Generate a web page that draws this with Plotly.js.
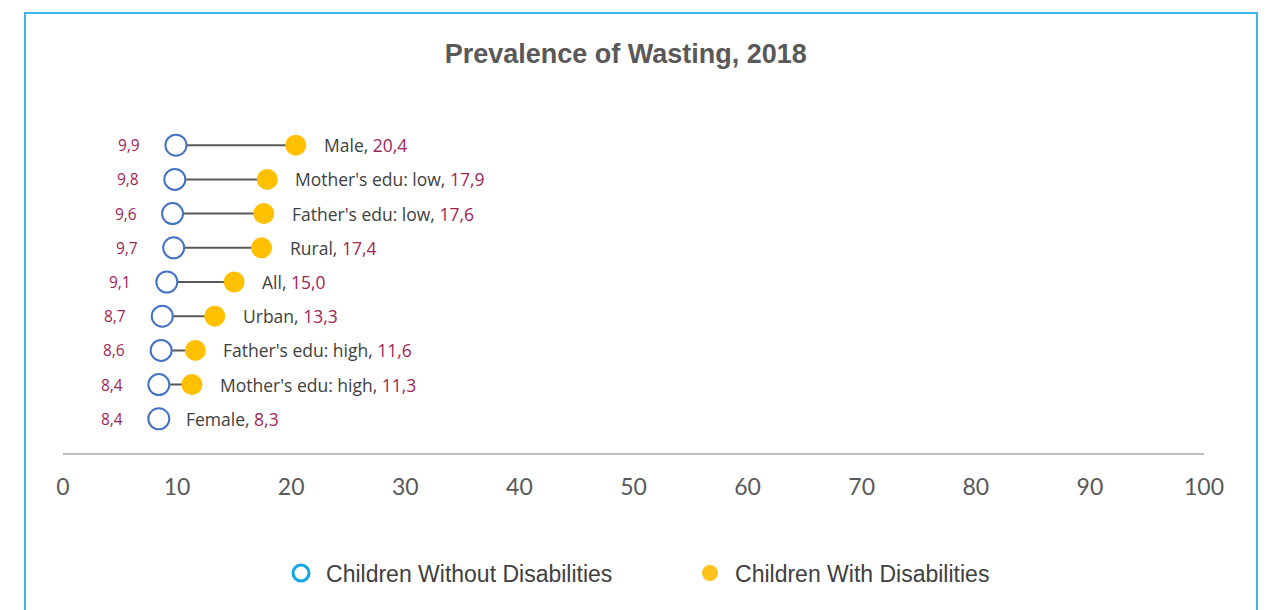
<!DOCTYPE html>
<html>
<head>
<meta charset="utf-8">
<script src="https://cdn.plot.ly/plotly-3.0.1.min.js"></script>
<style>
  html, body { margin:0; padding:0; background:#fff; }
  #wrap { position:relative; width:1272px; height:610px; overflow:hidden; }
  #chart { position:absolute; left:0; top:0; width:1272px; height:610px; }
  #frame { position:absolute; left:24px; top:12px; width:1230px; height:640px; border:2px solid #3cb6e6; pointer-events:none; }
</style>
</head>
<body>
<div id="wrap"><div id="chart"></div><div id="frame"></div></div>
<script>
const categories = ["Male", "Mother's edu: low", "Father's edu: low", "Rural", "All", "Urban", "Father's edu: high", "Mother's edu: high", "Female"];
const withoutDisab = [9.9, 9.8, 9.6, 9.7, 9.1, 8.7, 8.6, 8.4, 8.4];
const withDisab = [20.4, 17.9, 17.6, 17.4, 15.0, 13.3, 11.6, 11.3, 8.3];
const seriesNames = ["Children Without Disabilities", "Children With Disabilities"];
const xTicks = [0, 10, 20, 30, 40, 50, 60, 70, 80, 90, 100];

const fmt = v => v.toFixed(1).replace('.', ',');
const labelFont = "'Open Sans', Lato, sans-serif";
const valueColor = "#9e2656";

// connecting lines
const lx = [], ly = [];
categories.forEach((c, i) => { lx.push(withoutDisab[i], withDisab[i], null); ly.push(c, c, null); });

const traces = [
  { x: lx, y: ly, mode: 'lines', line: { color: '#595959', width: 2 }, showlegend: false, hoverinfo: 'skip' },
  { x: withDisab, y: categories, mode: 'markers', name: seriesNames[1], showlegend: false,
    marker: { color: '#ffc000', size: 21, line: { width: 0 } } },
  { x: withoutDisab, y: categories, mode: 'markers', name: seriesNames[0], showlegend: false,
    marker: { color: '#ffffff', size: 21, line: { color: '#4472c4', width: 2 } } },
  // legend entries
  { x: [null], y: [null], mode: 'markers', name: seriesNames[0],
    marker: { color: '#ffffff', size: 16, line: { color: '#14a6e4', width: 3 } } },
  { x: [null], y: [null], mode: 'markers', name: seriesNames[1],
    marker: { color: '#fdc21c', size: 18, line: { width: 0 } } }
];

const annotations = [];
categories.forEach((c, i) => {
  annotations.push({ x: withoutDisab[i], y: c, xref: 'x', yref: 'y', text: fmt(withoutDisab[i]),
    showarrow: false, xanchor: 'right', xshift: -34, yshift: 0,
    font: { family: labelFont, size: 15.5, color: valueColor } });
  annotations.push({ x: withDisab[i], y: c, xref: 'x', yref: 'y',
    text: c + ', <span style="color:' + valueColor + '">' + fmt(withDisab[i]) + '</span>',
    showarrow: false, xanchor: 'left', xshift: 26,
    font: { family: labelFont, size: 17.5, color: '#404040' } });
});

const layout = {
  width: 1272, height: 610,
  margin: { l: 63, r: 68, t: 111, b: 157 },
  paper_bgcolor: '#ffffff', plot_bgcolor: '#ffffff',
  title: { text: '<b>Prevalence of Wasting, 2018</b>', x: 0.492, xanchor: 'center', y: 0.912, yanchor: 'middle',
    font: { family: "'Liberation Sans Narrow', 'Liberation Sans', Arial, sans-serif", size: 27, color: '#595959' } },
  xaxis: { range: [0, 100], tickvals: xTicks, ticktext: xTicks.map(String), showgrid: false, zeroline: false,
    showline: true, linecolor: '#bfbfbf', linewidth: 2, ticks: '', ticklabelstandoff: 12,
    tickfont: { family: "Lato, sans-serif", size: 23, color: '#595959' }, fixedrange: true },
  yaxis: { type: 'category', categoryorder: 'array', categoryarray: categories, range: [9, -1],
    showticklabels: false, showgrid: false, zeroline: false, showline: false, ticks: '', fixedrange: true },
  showlegend: true,
  legend: { orientation: 'h', x: 0.1867, xanchor: 'left', y: -0.351, yanchor: 'middle',
    font: { family: "'Liberation Sans Narrow', 'Liberation Sans', Arial, sans-serif", size: 23, color: '#404040' },
    itemwidth: 40, tracegroupgap: 0, entrywidthmode: 'pixels', entrywidth: 354 },
  annotations: annotations
};

Plotly.newPlot('chart', traces, layout, { displayModeBar: false, staticPlot: true });
</script>
</body>
</html>
